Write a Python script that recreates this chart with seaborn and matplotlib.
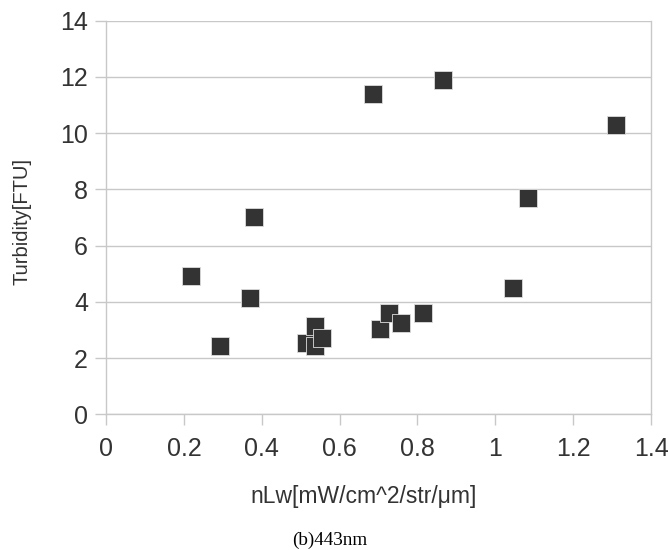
import matplotlib
matplotlib.use("Agg")
import matplotlib.pyplot as plt
import seaborn as sns
import pandas as pd

# nLw at 443nm vs turbidity
nlw_443 = [0.217, 0.292, 0.370, 0.381, 0.514, 0.537, 0.537, 0.556, 0.685,
           0.703, 0.727, 0.757, 0.813, 0.866, 1.045, 1.085, 1.310]
turbidity = [4.92, 2.42, 4.14, 7.02, 2.52, 3.13, 2.42, 2.72, 11.4,
             3.03, 3.61, 3.23, 3.62, 11.9, 4.5, 7.7, 10.3]
x_ticks = [0, 0.2, 0.4, 0.6, 0.8, 1, 1.2, 1.4]
x_tick_labels = ["0", "0.2", "0.4", "0.6", "0.8", "1", "1.2", "1.4"]
y_ticks = [0, 2, 4, 6, 8, 10, 12, 14]

df = pd.DataFrame({"nlw": nlw_443, "turb": turbidity})

sns.set_style("white")
plt.rcParams["font.family"] = ["Liberation Sans", "DejaVu Sans"]

fig = plt.figure(figsize=(6.69, 5.5), dpi=100)
ax = fig.add_axes([0.1585, 0.2467, 0.8146, 0.7157])

sns.scatterplot(data=df, x="nlw", y="turb", ax=ax, marker="s", s=180,
                color="#333333", edgecolor="#dddddd", linewidth=0.6, zorder=3)

ax.set_xlim(0, 1.4)
ax.set_ylim(0, 14)
ax.set_xticks(x_ticks)
ax.set_xticklabels(x_tick_labels)
ax.set_yticks(y_ticks)
ax.yaxis.grid(True, color="#c8c8c8", linewidth=1)
ax.xaxis.grid(False)
ax.set_axisbelow(True)

for side in ["left", "bottom", "right"]:
    ax.spines[side].set_visible(True)
    ax.spines[side].set_color("#c8c8c8")
    ax.spines[side].set_linewidth(1)
ax.spines["top"].set_visible(False)

ax.tick_params(axis="both", which="major", labelsize=18, colors="#c8c8c8",
               labelcolor="#333333", length=8, width=1, direction="out",
               bottom=True, left=True)
ax.tick_params(axis="x", pad=8)
ax.tick_params(axis="y", pad=5)

ax.set_xlabel("nLw[mW/cm^2/str/\u03bcm]", fontsize=16.5, color="#333333")
ax.set_ylabel("Turbidity[FTU]", fontsize=14.5, color="#333333")
ax.xaxis.set_label_coords(0.473, -0.208)
ax.xaxis.label.set_va("center")
ax.yaxis.set_label_coords(-0.154, 0.49)
ax.yaxis.label.set_va("center")

fig.text(0.493, 0.017, "(b)443nm", ha="center", va="center", fontsize=13.8,
         family=["Liberation Serif", "DejaVu Serif"], color="#000000")

fig.savefig("out.png", dpi=100, facecolor="white")
